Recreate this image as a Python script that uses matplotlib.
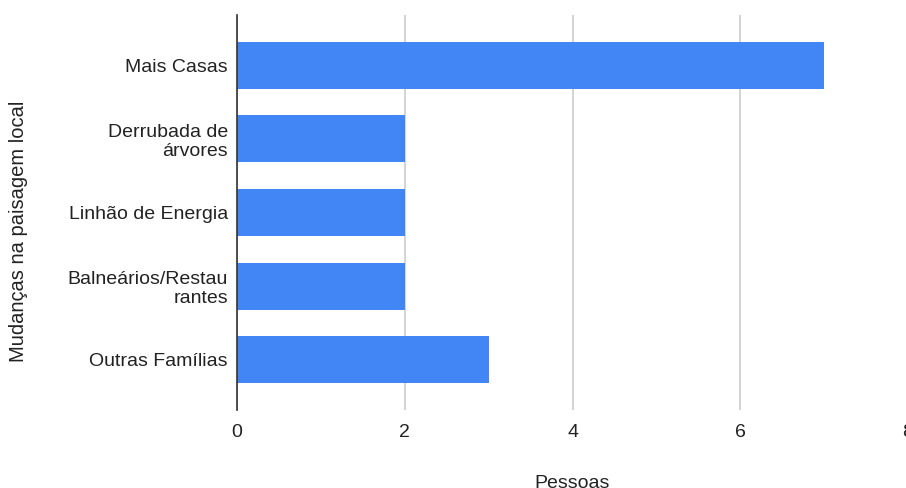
import matplotlib.pyplot as plt

plt.rcParams['font.family'] = ['Liberation Sans', 'DejaVu Sans']

# Data
categorias = ['Mais Casas', 'Derrubada de\nárvores', 'Linhão de Energia',
              'Balneários/Restau\nrantes', 'Outras Famílias']
pessoas = [7, 2, 2, 2, 3]
x_ticks = [0, 2, 4, 6, 8]

W, H = 906, 488
fig = plt.figure(figsize=(W / 100, H / 100), dpi=100)
# axes spans from x=237 to ~908 px, y=15 to 410 px
ax = fig.add_axes([237 / W, 1 - 410 / H, (908 - 237) / W, (410 - 15) / H])

pos = list(range(len(categorias)))
ax.barh(pos, pessoas, height=0.64, color='#4285F4', zorder=3)

ax.set_xlim(0, 8)
ax.set_ylim(4.68, -0.68)
ax.set_xticks(x_ticks)
ax.set_xticklabels([str(t) for t in x_ticks])
ax.set_yticks(pos)
ax.set_yticklabels(categorias, linespacing=1.15, ha='right', multialignment='right')

ax.tick_params(axis='both', length=0, labelsize=14, colors='#222222')
ax.tick_params(axis='y', pad=6.5)
ax.tick_params(axis='x', pad=10)

for s in ['top', 'right', 'bottom']:
    ax.spines[s].set_visible(False)
ax.spines['left'].set_color('#333333')
ax.spines['left'].set_linewidth(1.2)
ax.spines['left'].set_zorder(4)

ax.grid(axis='x', color='#cccccc', linewidth=1.2, zorder=0)
ax.grid(axis='y', visible=False)

fig.text(572 / W, 1 - 475 / H, 'Pessoas', ha='center', va='top',
         fontsize=14, color='#222222')
fig.text(19 / W, 1 - 231 / H, 'Mudanças na paisagem local', ha='center',
         va='center', rotation=90, fontsize=14.5, color='#222222')

fig.savefig('out.png', dpi=100)
